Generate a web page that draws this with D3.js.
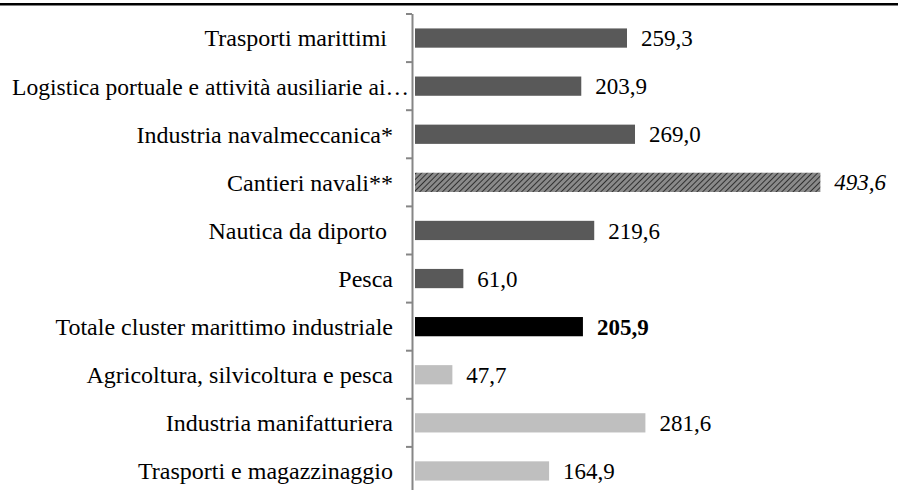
<!DOCTYPE html>
<html><head><meta charset="utf-8">
<script src="https://cdn.jsdelivr.net/npm/d3@7"></script>
<style>body{margin:0;background:#fff}svg{display:block}text{font-family:"Liberation Serif","Times New Roman",serif}</style>
</head><body>
<script>
const categories = ["Trasporti marittimi ","Logistica portuale e attività ausiliarie ai…","Industria navalmeccanica*","Cantieri navali**","Nautica da diporto ","Pesca","Totale cluster marittimo industriale","Agricoltura, silvicoltura e pesca","Industria manifatturiera","Trasporti e magazzinaggio"];
const values = [259.3,203.9,269.0,493.6,219.6,61.0,205.9,47.7,281.6,164.9];
const kinds = ["dark","dark","dark","hatch","dark","dark","total","light","light","light"];

const W=898,H=490;
const svg=d3.select("body").append("svg").attr("width",W).attr("height",H);
const defs=svg.append("defs");
const pat=defs.append("pattern").attr("id","hatch").attr("patternUnits","userSpaceOnUse").attr("width",4).attr("height",4).attr("patternTransform","rotate(45)");
pat.append("rect").attr("width",4).attr("height",4).attr("fill","#8a8a8a");
pat.append("line").attr("x1",0).attr("y1",0).attr("x2",0).attr("y2",4).attr("stroke","#1a1a1a").attr("stroke-width",1.6);

svg.append("rect").attr("x",0).attr("y",3).attr("width",W).attr("height",2.5).attr("fill","#000");

const x=d3.scaleLinear().domain([0,500]).range([413,413+500*0.8253]);
const y=d3.scaleBand().domain(categories).range([14,495]).paddingInner(0.6).paddingOuter(0.3);
const fill={dark:"#595959",hatch:"url(#hatch)",total:"#000",light:"#bfbfbf"};

const data=categories.map((c,i)=>({c,v:values[i],k:kinds[i]}));
svg.selectAll("rect.bar").data(data).enter().append("rect").attr("class","bar")
 .attr("x",x(0)+2).attr("y",d=>y(d.c)).attr("width",d=>x(d.v)-x(0)-2).attr("height",y.bandwidth())
 .attr("fill",d=>fill[d.k]);

const step=y.step();
const ticks=d3.range(0,11).map(i=>14+i*step);
const ax=svg.append("g").attr("stroke","#868686");
ax.append("line").attr("x1",412.5).attr("x2",412.5).attr("y1",14).attr("y2",H).attr("stroke-width",2);
ax.selectAll("line.t").data(ticks).enter().append("line").attr("class","t")
 .attr("x1",406).attr("x2",412).attr("y1",d=>d).attr("y2",d=>d).attr("stroke-width",2);

const labelRight=393, labelMinLeft=12, labelMaxRight=409;
svg.selectAll("text.cat").data(data).enter().append("text").attr("class","cat")
 .attr("y",d=>y(d.c)+y.bandwidth()/2).attr("dy","0.35em")
 .attr("font-size",24).attr("fill","#000").attr("xml:space","preserve").text(d=>d.c)
 .each(function(){
   const w=this.getComputedTextLength();
   const s=d3.select(this).attr("text-anchor","start");
   if(labelRight-w<labelMinLeft){
     s.attr("x",labelMinLeft).attr("textLength",labelMaxRight-labelMinLeft).attr("lengthAdjust","spacingAndGlyphs");
   } else s.attr("x",labelRight-w);
 });

const fmt=v=>v.toFixed(1).replace(".",",");
svg.selectAll("text.val").data(data).enter().append("text").attr("class","val")
 .attr("x",d=>x(d.v)+14).attr("y",d=>y(d.c)+y.bandwidth()/2).attr("dy","0.35em")
 .attr("font-size",23)
 .attr("font-style",d=>d.k==="hatch"?"italic":"normal").attr("font-weight",d=>d.k==="total"?"bold":"normal")
 .attr("fill","#000").text(d=>fmt(d.v));
</script>
</body></html>
